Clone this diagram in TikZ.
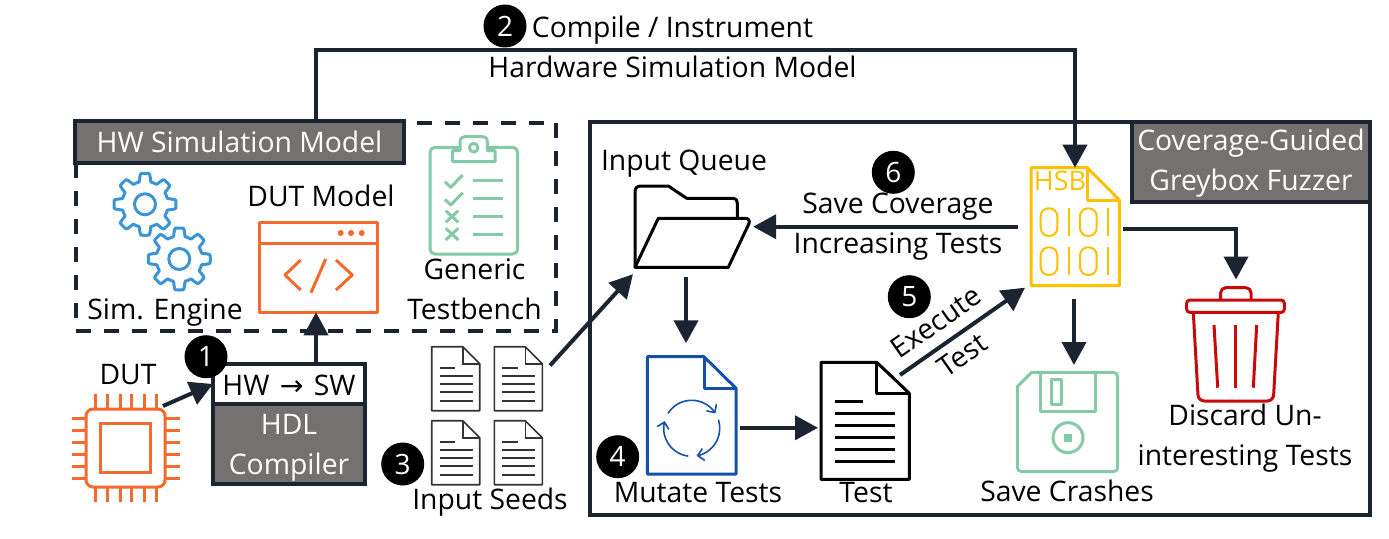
\documentclass[tikz,border=0pt]{standalone}
\usepackage{fontspec}
\setmainfont{Open Sans}
\newfontfamily\arrowfont{DejaVu Sans}
\usetikzlibrary{arrows.meta,calc}
\definecolor{darkln}{HTML}{1C2331}
\definecolor{boxgray}{HTML}{767171}
\definecolor{orangeic}{HTML}{F4692C}
\definecolor{greenic}{HTML}{84C9A8}
\definecolor{blueic}{HTML}{3A94D6}
\definecolor{navyic}{HTML}{1450A8}
\definecolor{yellowic}{HTML}{FFC000}
\definecolor{redic}{HTML}{C90A0A}
\tikzset{
  lbl/.style={font=\fontsize{28.3}{40}\selectfont,inner sep=0pt,align=center,text=black},
  wlbl/.style={lbl,text=white},
  hdr/.style={draw=darkln,fill=boxgray,line width=4pt,inner sep=0pt,outer sep=0pt,minimum height=42pt},
  conn/.style={draw=darkln,line width=4pt,-{Triangle[length=23pt,width=24pt]}},
  badge/.style={circle,fill=black,text=white,minimum size=43pt,inner sep=0pt,font=\fontsize{28}{30}\selectfont},
  anch/.style={inner sep=0pt,outer sep=0pt,rectangle},
  ic/.style={line width=3pt,line join=round},
  thin1/.style={line width=1.6pt,draw=black!80}
}
\newcommand{\dnline}[2][-2pt]{\strut\raisebox{#1}{#2}}
\newcommand{\gearic}[2]{%
  \draw[blueic,line width=3pt,line join=round] plot[domain=0:360,samples=241] ({#1+(27+4*max(-1,min(1,2.4*sin(8*\x+90))))*cos(\x)},{#2+(27+4*max(-1,min(1,2.4*sin(8*\x+90))))*sin(\x)}) -- cycle;
  \draw[blueic,line width=3pt] (#1,#2) circle (10.5);
}
\newcommand{\seedic}[2]{%
  \draw[thin1,fill=white,line join=round] (#1,#2) -- ++(31,0) -- ++(17,17) -- ++(0,47) -- ++(-48,0) -- cycle;
  \draw[thin1] (#1+31,#2) -- ++(0,17) -- ++(17,0);
  \draw[thin1] (#1+8,#2+21) -- ++(15.5,0);
  \foreach \yy in {29,37,45.5,54} \draw[thin1] (#1+8,#2+\yy) -- ++(33,0);
}
\begin{document}
\begin{tikzpicture}[x=1pt,y=-1pt]
\useasboundingbox[fill=white] (0,0) rectangle (1389,538);

% containers
\draw[darkln,line width=4pt,dash pattern=on 15pt off 13pt] (76,163) -- (76,330.7) -- (556,330.7) -- (556,122.7) -- (404,122.7);
\draw[darkln,line width=4pt] (590,122) rectangle (1370,515);
\node[hdr,wlbl,minimum width=329pt,anchor=north west] (hwmodel) at (75,121) {\dnline{HW Simulation Model}};
\node[hdr,wlbl,minimum width=238pt,minimum height=75pt,anchor=north west] (fuzzer) at (1132,122) {\strut Coverage-Guided\\[0pt]\strut Greybox Fuzzer};

% compiler
\node[draw=darkln,fill=white,line width=4pt,inner sep=0pt,outer sep=0pt,minimum width=152pt,minimum height=40pt,anchor=north west,lbl] (hwsw) at (213,364) {\dnline[-3pt]{HW\hspace{3pt} {\arrowfont →} \hspace{3pt}SW}};
\node[hdr,wlbl,minimum width=152pt,minimum height=79pt,anchor=north west] (compiler) at (213,404) {\dnline{HDL}\\\dnline{Compiler}};

% anchors of the icons
\node[anch,minimum width=79pt,minimum height=78pt] (dutchip) at (125.5,448) {};
\node[anch,minimum width=118pt,minimum height=90pt] (dutmodel) at (316,267.3) {};
\node[anch,minimum width=112pt,minimum height=139pt] (seeds) at (487,416) {};
\node[anch,minimum width=115pt,minimum height=81pt] (queue) at (692.5,226.7) {};
\node[anch,minimum width=89pt,minimum height=117pt] (mutate) at (691.7,415.5) {};
\node[anch,minimum width=88pt,minimum height=117pt] (testdoc) at (865,420.8) {};
\node[anch,minimum width=88pt,minimum height=118pt] (hsb) at (1075,226.7) {};
\node[anch,minimum width=100pt,minimum height=100pt] (floppy) at (1067.5,422) {};
\node[anch,minimum width=98pt,minimum height=114pt] (trash) at (1236,344.5) {};

% DUT chip
\foreach \xx in {95,107.3,120,131.7,144,156} {
  \draw[orangeic,line width=3pt] (\xx,394) -- (\xx,409);
  \draw[orangeic,line width=3pt] (\xx,487) -- (\xx,501.7);
}
\foreach \yy in {418.3,430,442.3,454,466,478.3} {
  \draw[orangeic,line width=3pt] (71.7,\yy) -- (86,\yy);
  \draw[orangeic,line width=3pt] (165,\yy) -- (180,\yy);
}
\draw[orangeic,line width=3pt,rounded corners=7pt] (86,409) rectangle (165,487);
\draw[orangeic,line width=3pt] (100.7,423) rectangle (150.7,472);

% gears
\gearic{145}{204.3}
\gearic{179.3}{259}

% DUT model window
\draw[orangeic,ic] (259.3,222.3) rectangle (377.3,312.3);
\draw[orangeic,ic] (259.3,243.3) -- (377.3,243.3);
\foreach \xx in {340.7,351,361.7} \fill[orangeic] (\xx,233) circle (3);
\draw[orangeic,ic] (300.7,260) -- (285,275) -- (300.7,290);
\draw[orangeic,ic] (325.7,259) -- (311,292.7);
\draw[orangeic,ic] (336,260) -- (352.3,275) -- (336,290);

% clipboard
\draw[greenic,ic,rounded corners=5pt] (430,147.3) rectangle (517.7,254);
\draw[greenic,ic,fill=white] (452.7,161.7) -- (452.7,150.7) -- (460,150.7) -- (460,142) .. controls (460,138) and (462,136.7) .. (465,136.7) -- (482,136.7) .. controls (485.5,136.7) and (487.3,138) .. (487.3,142) -- (487.3,150.7) -- (495,150.7) -- (495,161.7) -- cycle;
\draw[greenic,ic] (473.7,147.7) circle (4.3);
\foreach \yy in {180.7,198.3,216.3,234} \draw[greenic,ic] (472.7,\yy) -- (503.3,\yy);
\draw[greenic,ic] (445,181.7) -- (450.7,187.3) -- (462.7,175);
\draw[greenic,ic] (445,199.4) -- (450.7,205) -- (462.7,192.7);
\draw[greenic,ic] (445.7,210.7) -- (458.3,222.3) (458.3,210.7) -- (445.7,222.3);
\draw[greenic,ic] (445.7,228.3) -- (458.3,240) (458.3,228.3) -- (445.7,240);

% seeds
\seedic{431.7}{346.7}
\seedic{494.3}{346.7}
\seedic{431.7}{420.7}
\seedic{494.3}{420.7}

% folder
\draw[black,ic] (635,267) -- (635,192) .. controls (635,188) and (637,186) .. (641,186) -- (668.3,186) -- (686.7,198.3) -- (733,198.3) .. controls (736,198.3) and (737.3,200) .. (737.3,203) -- (737.3,218.3);
\draw[black,ic] (635,267.3) -- (658.3,218.3) -- (745,218.3) .. controls (748.5,218.3) and (750,220.5) .. (749,223.5) -- (728.3,267.3) -- cycle;

% mutate document
\draw[navyic,ic] (647.3,356.7) -- (704,356.7) -- (736,388.3) -- (736,474) -- (647.3,474) -- cycle;
\draw[navyic,ic] (704,356.7) -- (704,388.3) -- (736,388.3);
\foreach \aa/\bb in {148/32,18/-80,-97/-195}
  \draw[navyic,line width=1.6pt,-{Straight Barb[length=6pt,width=12pt]}] plot[domain=\aa:\bb,samples=30] ({691.7+28*cos(\x)},{428.3-28*sin(\x)});

% test document
\draw[black,ic] (821,362.3) -- (876.7,362.3) -- (909.3,393.3) -- (909.3,479.3) -- (821,479.3) -- cycle;
\draw[black,ic] (876.7,362.3) -- (876.7,393.3) -- (909.3,393.3);
\draw[black,ic] (835,401.7) -- (863.3,401.7);
\foreach \yy in {413.3,425.3,437.3,449.3,461.3} \draw[black,ic] (835,\yy) -- (895,\yy);

% HSB document
\draw[yellowic,ic] (1031,167.7) -- (1087.3,167.7) -- (1119.3,200) -- (1119.3,285.7) -- (1031,285.7) -- cycle;
\draw[yellowic,ic] (1087.3,167.7) -- (1087.3,200) -- (1119.3,200);
\foreach \ya/\yb in {208.3/236,247.3/275} {
  \draw[yellowic,line width=2pt,rounded corners=8pt] (1040.7,\ya) rectangle (1057.3,\yb);
  \draw[yellowic,line width=2pt,rounded corners=8pt] (1080,\ya) rectangle (1096.7,\yb);
  \draw[yellowic,line width=2pt] (1068.7,\ya) -- (1068.7,\yb);
  \draw[yellowic,line width=2pt] (1108,\ya) -- (1108,\yb);
}
\node[lbl,text=yellowic,font=\fontsize{27}{40}\selectfont] (hsblabel) at (1060,182.5) {\strut HSB};

% floppy
\draw[greenic,ic] (1017.3,386.7) -- (1031.7,372.3) -- (1113,372.3) .. controls (1116,372.3) and (1117.7,374) .. (1117.7,377) -- (1117.7,467) .. controls (1117.7,470) and (1116,471.7) .. (1113,471.7) -- (1022,471.7) .. controls (1019,471.7) and (1017.3,470) .. (1017.3,467) -- cycle;
\draw[greenic,ic] (1040,372.3) -- (1040,411) -- (1095.7,411) -- (1095.7,372.3);
\draw[greenic,ic] (1051,379.3) rectangle (1061,404);
\draw[greenic,ic] (1068,437.7) circle (15);
\fill[greenic] (1064,433.7) rectangle (1072,441.7);

% trash
\draw[redic,ic,rounded corners=5pt] (1220.7,300) -- (1220.7,287.7) -- (1251,287.7) -- (1251,300);
\draw[redic,ic,rounded corners=3pt] (1186.7,300) rectangle (1284.3,312.3);
\draw[redic,ic,rounded corners=6pt] (1193.3,312.3) -- (1198.3,401) -- (1273.3,401) -- (1278.3,312.3);
\draw[redic,ic] (1214,325) -- (1217.7,387.7);
\draw[redic,ic] (1235.7,325) -- (1235.7,387.7);
\draw[redic,ic] (1256.7,325) -- (1253.3,387.7);

% labels
\node[lbl] (l2) at (672.5,49) {\strut Compile / Instrument\\\strut Hardware Simulation Model};
\node[lbl] (ldut) at (321,198.5) {\strut DUT Model};
\node[lbl] (lsim) at (165,311.5) {\strut Sim. Engine};
\node[lbl] (lgen) at (474.5,291) {\strut Generic\\\strut Testbench};
\node[lbl] (lchip) at (128,376.5) {\strut DUT};
\node[lbl] (lseed) at (490,501.5) {\strut Input Seeds};
\node[lbl] (lq) at (684,162.5) {\strut Input Queue};
\node[lbl] (lsave) at (898,225.5) {\strut Save Coverage\\\strut Increasing Tests};
\node[lbl] (lmut) at (698,494.5) {\strut Mutate Tests};
\node[lbl] (ltest) at (866,494.5) {\strut Test};
\node[lbl] (lcrash) at (1067,493.5) {\strut Save Crashes};
\node[lbl] (ldisc) at (1245,437.5) {\strut Discard Un-\\\strut interesting Tests};
\node[lbl,rotate=35] (lexec) at (936,322) {Execute};
\node[lbl,rotate=35] (ltest2) at (962,355) {Test};

% connectors
\draw[conn] ([shift={(-2,-3)}]dutchip.north east) -- (hwsw.west);
\draw[conn] (hwsw.north -| dutmodel.south) -- (dutmodel.south);
\draw[conn] (hwmodel.north -| dutmodel.south) -- ++(0,-71) -| (hsb.north);
\draw[conn] ([shift={(7,19)}]seeds.north east) -- ([shift={(-2,7)}]queue.south west);
\draw[conn] ([shift={(-6.5,10)}]queue.south) -- ([shift={(-5.7,-13.7)}]mutate.north);
\draw[conn] ([shift={(4,12.3)}]mutate.east) -- ([shift={(-3,7)}]testdoc.west);
\draw[conn] ([shift={(-9,12.7)}]testdoc.north east) -- ([shift={(-6,2)}]hsb.south west);
\draw[conn] ([shift={(-13,0)}]hsb.west) -- ([shift={(3.2,0)}]queue.east);
\draw[conn] ([shift={(4,2)}]hsb.east) -| ([shift={(0,-8)}]trash.north);
\draw[conn] ([shift={(-1,13.3)}]hsb.south) -- ([shift={(6.5,-7)}]floppy.north);

% badges
\node[badge] (b1) at (206,356.7) {1};
\node[badge] (b2) at (505,26) {2};
\node[badge] (b3) at (402.7,464) {3};
\node[badge] (b4) at (617.7,456.7) {4};
\node[badge] (b5) at (909.3,296.7) {5};
\node[badge] (b6) at (893.3,172.3) {6};
\end{tikzpicture}
\end{document}
